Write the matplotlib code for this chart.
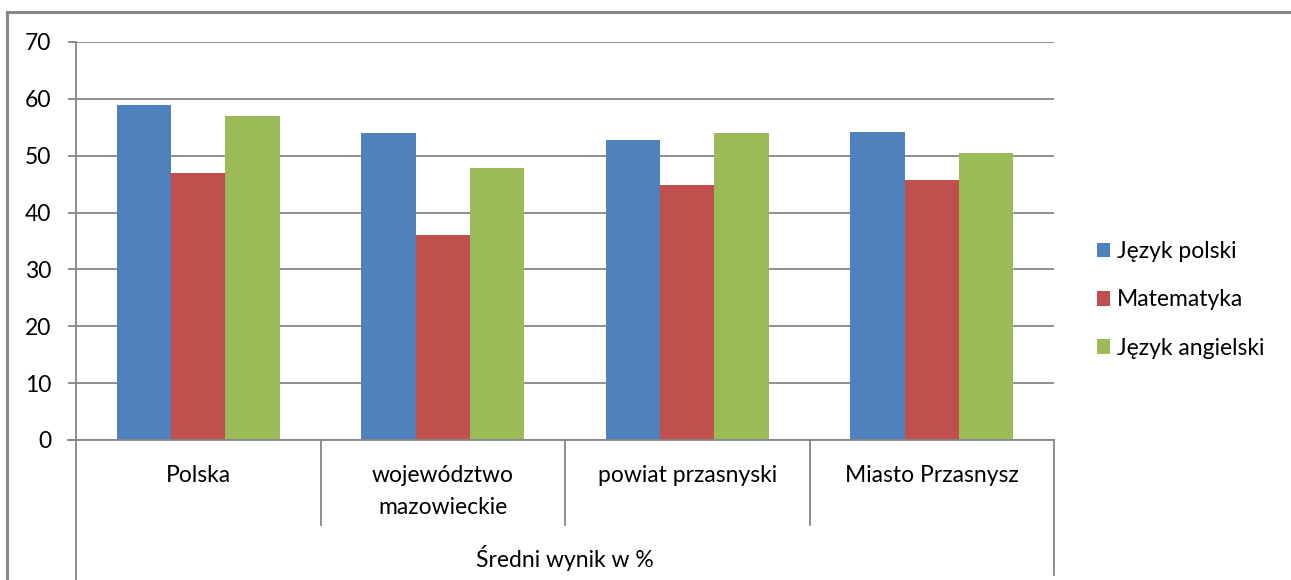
import matplotlib
matplotlib.use("Agg")
import matplotlib.pyplot as plt
import matplotlib.transforms as mtransforms
from matplotlib.lines import Line2D
from matplotlib.patches import Patch
import numpy as np

plt.rcParams['font.family'] = ['Lato', 'DejaVu Sans']

categories = ["Polska", "województwo\nmazowieckie", "powiat przasnyski", "Miasto Przasnysz"]
series_names = ["Język polski", "Matematyka", "Język angielski"]
jezyk_polski = [59, 54, 52.8, 54.1]
matematyka = [47, 36, 44.9, 45.7]
jezyk_angielski = [57, 47.9, 54, 50.5]
colors = ["#4F81BD", "#C0504D", "#9BBB59"]
y_ticks = [0, 10, 20, 30, 40, 50, 60, 70]
axis_title = "Średni wynik w %"

FS = 16.5
W, H = 1291, 580
fig = plt.figure(figsize=(W / 100, H / 100), dpi=100)
ax = fig.add_axes([76 / W, 1 - 440 / H, (1054 - 76) / W, (440 - 42) / H])

x = np.arange(len(categories))
bw = 0.222
for i, (vals, c, name) in enumerate(zip([jezyk_polski, matematyka, jezyk_angielski], colors, series_names)):
    ax.bar(x + (i - 1) * bw, vals, width=bw, color=c, label=name, zorder=3)

ax.set_xlim(-0.5, len(categories) - 0.5)
ax.set_ylim(0, 70)
ax.set_yticks(y_ticks)
ax.yaxis.grid(True, color="#868686", linewidth=1.3, zorder=0)
for s in ["top", "right", "bottom"]:
    ax.spines[s].set_visible(False)
ax.spines["left"].set_color("#868686")
ax.spines["left"].set_linewidth(1.3)
ax.tick_params(axis="y", length=5.8, width=1.3, color="#868686", labelsize=FS, pad=12, labelcolor="#000000")
ax.set_xticks(x)
ax.set_xticklabels(categories, fontsize=FS, linespacing=1.65, va="top")
ax.tick_params(axis="x", length=0, pad=18)

trans = mtransforms.blended_transform_factory(ax.transData, ax.transAxes)
ax.plot([-0.5 - 8 / 244, len(categories) - 0.5], [0, 0], transform=trans, color="#868686", lw=1.3, clip_on=False, zorder=4)
sep_bottom = -(525 - 440) / (440 - 42)
for b in [0.5, 1.5, 2.5]:
    ax.plot([b, b], [0, sep_bottom], transform=trans, color="#868686", lw=1.3, clip_on=False)
outer_bottom = -(580 - 440) / (440 - 42)
ax.plot([-0.5, -0.5], [0, outer_bottom - 0.01], transform=trans, color="#868686", lw=1.3, clip_on=False)
ax.plot([len(categories) - 0.5] * 2, [0, -(575 - 440) / (440 - 42)], transform=trans, color="#868686", lw=1.3, clip_on=False)

fig.text((76 + 1054) / 2 / W, 1 - 558 / H, axis_title, ha="center", va="center", fontsize=FS)

fig.add_artist(Line2D([7 / W, 1.01], [1 - 12 / H, 1 - 12 / H], transform=fig.transFigure, color="#878787", lw=2.2))
fig.add_artist(Line2D([7 / W, 7 / W], [1 - 12 / H, -0.01], transform=fig.transFigure, color="#878787", lw=2.2))

handles = [Patch(facecolor=c) for c in colors]
fig.legend(handles, series_names, loc="center left", bbox_to_anchor=(1088 / W, 1 - 300 / H),
           frameon=False, fontsize=FS, handlelength=0.58, handleheight=0.58,
           handletextpad=0.3, labelspacing=1.18, borderaxespad=0, borderpad=0.4)

fig.savefig("out.png", dpi=100)
